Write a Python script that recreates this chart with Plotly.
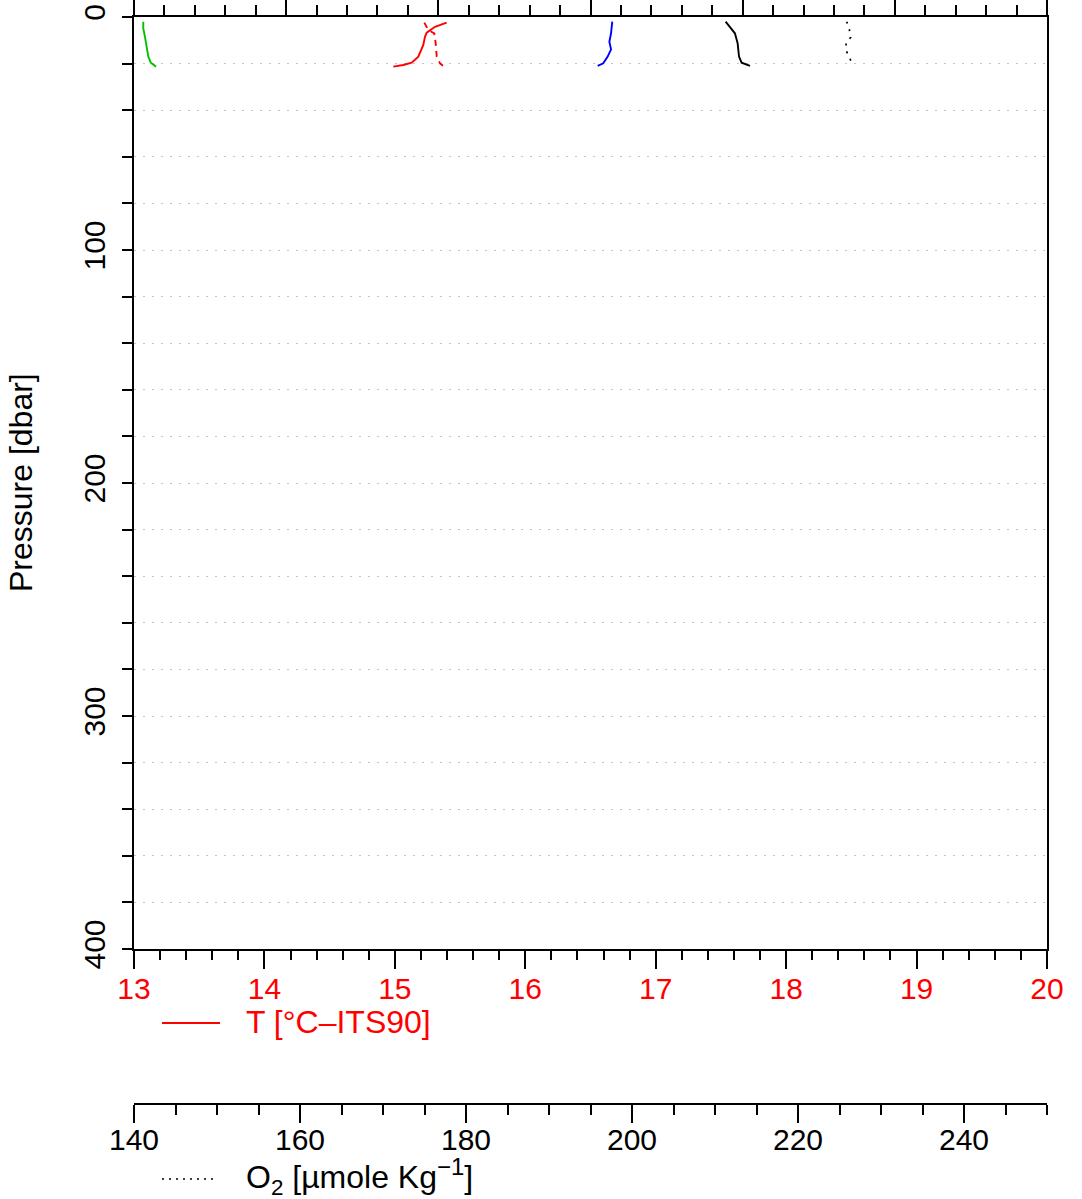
import plotly.graph_objects as go

# ---- data ----
# temperature sensors [deg C]
temp1_T = [15.397, 15.308, 15.244, 15.231, 15.218, 15.180, 15.129, 15.065, 14.988]
temp1_p = [2.4, 4.2, 6.7, 8.5, 12.0, 17.0, 19.6, 20.6, 21.3]
temp2_T = [15.226, 15.256, 15.302, 15.313, 15.321, 15.346, 15.371]
temp2_p = [2.4, 5.6, 7.0, 11.3, 17.0, 19.9, 21.0]
# variables on the top axis (labels outside the picture), in top-axis units
green_v = [0.061, 0.061, 0.072, 0.083, 0.094, 0.110, 0.145]
green_p = [2.0, 4.9, 8.5, 12.0, 17.0, 19.6, 21.3]
blue_v = [3.143, 3.135, 3.124, 3.135, 3.113, 3.084, 3.047]
blue_p = [2.0, 7.0, 10.6, 13.9, 17.0, 19.9, 21.0]
black_v = [3.888, 3.917, 3.949, 3.967, 3.976, 3.993, 4.048]
black_p = [2.0, 4.2, 7.0, 11.3, 17.0, 19.6, 21.0]
# oxygen [umol/kg]
o2_v = [225.87, 226.18, 226.35, 225.78, 225.87, 226.27, 226.66]
o2_p = [2.0, 5.3, 8.7, 11.3, 14.9, 17.7, 21.0]

temp_ticks = [13, 14, 15, 16, 17, 18, 19, 20]
o2_ticks = [140, 160, 180, 200, 220, 240]
p_ticks = [0, 100, 200, 300, 400]

FONT = "Liberation Sans, Arial, sans-serif"
W, H = 1082, 1199
ML, MR, MT, MB = 134, 35, 17, 95
PH = H - MT - MB
PW = W - ML - MR
plot_bottom_px = 949
ydom0 = (H - MB - plot_bottom_px) / PH

TICKSZ = 30
TEXTSZ = 32

fig = go.Figure()
lw = 1.9
fig.add_trace(go.Scatter(x=temp1_T, y=temp1_p, mode="lines", xaxis="x", yaxis="y",
                         line=dict(color="red", width=lw)))
fig.add_trace(go.Scatter(x=temp2_T, y=temp2_p, mode="lines", xaxis="x", yaxis="y",
                         line=dict(color="red", width=lw, dash="6px,5px")))
fig.add_trace(go.Scatter(x=green_v, y=green_p, mode="lines", xaxis="x2", yaxis="y",
                         line=dict(color="#00c000", width=lw)))
fig.add_trace(go.Scatter(x=blue_v, y=blue_p, mode="lines", xaxis="x2", yaxis="y",
                         line=dict(color="blue", width=lw)))
fig.add_trace(go.Scatter(x=black_v, y=black_p, mode="lines", xaxis="x2", yaxis="y",
                         line=dict(color="black", width=lw)))
fig.add_trace(go.Scatter(x=o2_v, y=o2_p, mode="lines", xaxis="x3", yaxis="y",
                         line=dict(color="black", width=1.7, dash="2px,6px")))

tickfont = dict(family=FONT, size=TICKSZ, color="black")
GRID = "#c4c4c4"

fig.update_layout(
    width=W, height=H,
    margin=dict(l=ML, r=MR, t=MT, b=MB, autoexpand=False),
    paper_bgcolor="white", plot_bgcolor="white",
    showlegend=False,
    font=dict(family=FONT, size=TICKSZ, color="black"),
    yaxis=dict(
        domain=[ydom0, 1], range=[400, 0], autorange=False, automargin=False,
        tickvals=p_ticks, ticktext=[str(v) for v in p_ticks],
        ticks="outside", ticklen=10, tickwidth=1.5, tickcolor="black",
        minor=dict(dtick=20, tick0=0, ticks="outside", ticklen=10, tickwidth=1.5,
                   tickcolor="black", showgrid=True, gridcolor=GRID,
                   griddash="2px,7px", gridwidth=1.2),
        showgrid=True, gridcolor=GRID, griddash="2px,7px", gridwidth=1.2,
        tickangle=-90, tickfont=tickfont, ticklabelstandoff=5,
        ticklabeloverflow="allow",
        showline=True, linecolor="black", linewidth=2, mirror=True,
        zeroline=False,
    ),
    xaxis=dict(
        range=[13, 20], autorange=False, anchor="y", side="bottom", automargin=False,
        tickvals=temp_ticks, ticktext=[str(v) for v in temp_ticks],
        ticks="outside", ticklen=18, tickwidth=1.5, tickcolor="black",
        minor=dict(dtick=0.2, tick0=13, ticks="outside", ticklen=9, tickwidth=1.5,
                   tickcolor="black", showgrid=False),
        tickfont=dict(family=FONT, size=TICKSZ, color="red"), ticklabelstandoff=-6,
        ticklabeloverflow="allow",
        showline=True, linecolor="black", linewidth=2,
        showgrid=False, zeroline=False,
    ),
    xaxis2=dict(
        range=[0, 6], autorange=False, anchor="y", side="top", overlaying="x",
        automargin=False,
        tickvals=[0, 1, 2, 3, 4, 5, 6], showticklabels=False,
        ticks="outside", ticklen=22, tickwidth=1.5, tickcolor="black",
        minor=dict(dtick=0.2, tick0=0, ticks="outside", ticklen=10, tickwidth=1.5,
                   tickcolor="black", showgrid=False),
        showline=True, linecolor="black", linewidth=2,
        showgrid=False, zeroline=False,
    ),
    xaxis3=dict(
        range=[140, 250], autorange=False, anchor="free", position=0, overlaying="x",
        side="bottom", automargin=False,
        tickvals=o2_ticks, ticktext=[str(v) for v in o2_ticks],
        ticks="outside", ticklen=18, tickwidth=1.5, tickcolor="black",
        minor=dict(dtick=5, tick0=140, ticks="outside", ticklen=10, tickwidth=1.5,
                   tickcolor="black", showgrid=False),
        tickfont=tickfont, ticklabelstandoff=-9,
        ticklabeloverflow="allow",
        showline=True, linecolor="black", linewidth=2,
        showgrid=False, zeroline=False,
    ),
)

# helpers: pixel position -> paper coordinates (for legend samples / titles)
def px_x(px):
    return (px - ML) / PW

def px_y(py):
    return (H - MB - py) / PH

fig.add_annotation(xref="paper", yref="paper", x=px_x(21), y=px_y(483),
                   text="Pressure [dbar]", textangle=-90, showarrow=False,
                   xanchor="center", yanchor="middle",
                   font=dict(family=FONT, size=TEXTSZ, color="black"))

fig.add_shape(type="line", xref="paper", yref="paper",
              x0=px_x(162), x1=px_x(220), y0=px_y(1023), y1=px_y(1023),
              line=dict(color="red", width=1.8))
fig.add_annotation(xref="paper", yref="paper", x=px_x(244), y=px_y(1022),
                   text="T [°C–ITS90]", showarrow=False, xanchor="left", yanchor="middle",
                   font=dict(family=FONT, size=TEXTSZ, color="red"))
fig.add_shape(type="line", xref="paper", yref="paper",
              x0=px_x(162), x1=px_x(215), y0=px_y(1179), y1=px_y(1179),
              line=dict(color="black", width=1.5, dash="2px,5px"))
fig.add_annotation(xref="paper", yref="paper", x=px_x(244), y=px_y(1176),
                   text="O<sub>2</sub> [µmole Kg<sup><span style='font-size:24px'>−1</span></sup>]",
                   showarrow=False, xanchor="left", yanchor="middle",
                   font=dict(family=FONT, size=TEXTSZ, color="black"))

fig.write_html("out.html",
               config={"displayModeBar": False},
               post_script="document.body.style.margin='0';"
                           "document.documentElement.style.margin='0';")
